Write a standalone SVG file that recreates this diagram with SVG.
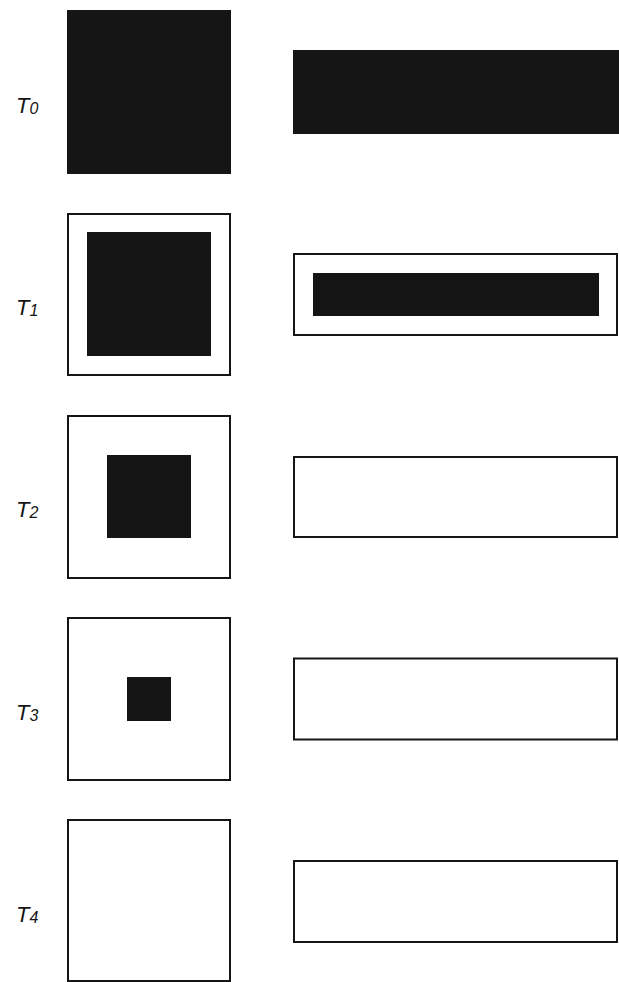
<svg xmlns="http://www.w3.org/2000/svg" width="619" height="982" viewBox="0 0 619 982">
<style>
.bg{fill:#ffffff}
.solid{fill:#151515}
.frame{fill:#ffffff;stroke:#151515;stroke-width:2}
.lbl{font-family:"Liberation Sans",Arial,sans-serif;font-style:italic;font-size:22px;fill:#151515}
.sub{font-size:16px}
</style>
<rect class="bg" x="0" y="0" width="619" height="982"/>
<g id="row-T0">
  <text class="lbl" x="16" y="113">T<tspan class="sub" dy="1">0</tspan></text>
  <rect class="solid" x="67" y="10" width="164" height="164"/>
  <rect class="solid" x="293" y="50" width="326" height="84"/>
</g>
<g id="row-T1">
  <text class="lbl" x="16" y="315">T<tspan class="sub" dy="1">1</tspan></text>
  <rect class="frame" x="68" y="214" width="162" height="161"/>
  <rect class="solid" x="87" y="232" width="124" height="124"/>
  <rect class="frame" x="294" y="254" width="323" height="81"/>
  <rect class="solid" x="313" y="273" width="286" height="43"/>
</g>
<g id="row-T2">
  <text class="lbl" x="16" y="517">T<tspan class="sub" dy="1">2</tspan></text>
  <rect class="frame" x="68" y="416" width="162" height="162"/>
  <rect class="solid" x="107" y="455" width="84" height="83"/>
  <rect class="frame" x="294" y="457" width="323" height="80"/>
</g>
<g id="row-T3">
  <text class="lbl" x="16" y="720">T<tspan class="sub" dy="1">3</tspan></text>
  <rect class="frame" x="68" y="618" width="162" height="162"/>
  <rect class="solid" x="127" y="677" width="44" height="44"/>
  <rect class="frame" x="294" y="658.5" width="323" height="81"/>
</g>
<g id="row-T4">
  <text class="lbl" x="16" y="922">T<tspan class="sub" dy="1">4</tspan></text>
  <rect class="frame" x="68" y="820" width="162" height="161"/>
  <rect class="frame" x="294" y="861" width="323" height="81"/>
</g>
<g id="connectors"></g>
</svg>
